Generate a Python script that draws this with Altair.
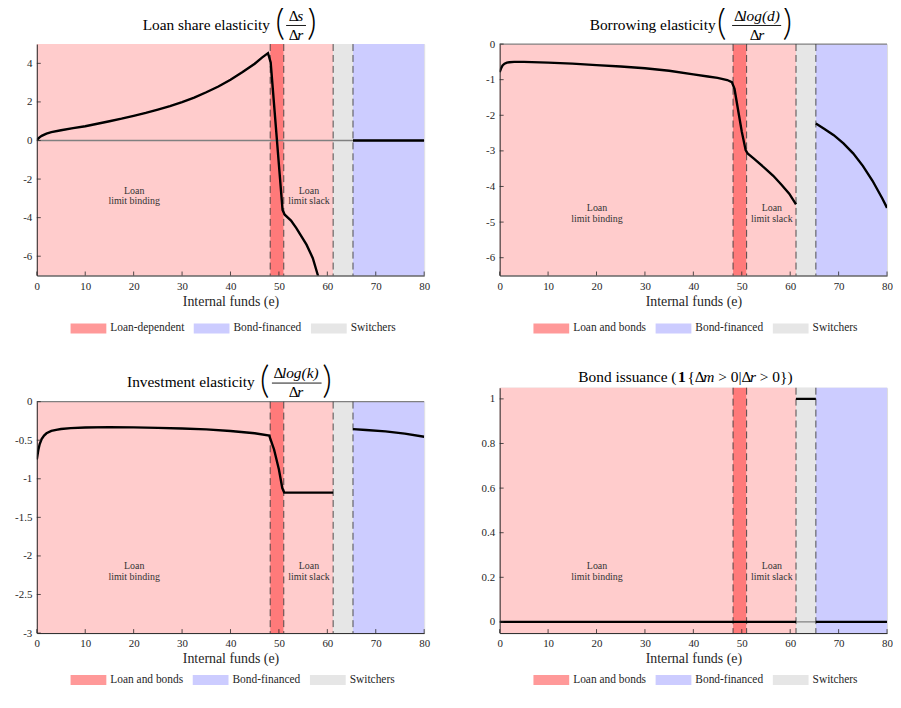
import altair as alt
import pandas as pd

FONT = "Liberation Serif"
INK = "#262626"
NB = "\u00a0"

# ---------------- data ----------------
X_TICKS = [0, 10, 20, 30, 40, 50, 60, 70, 80]
REGION_START = [0.0, 48.2, 51.0, 61.2, 65.3]
REGION_END = [48.2, 51.0, 61.2, 65.3, 80.0]
REGION_KIND = ["Loan limit binding", "Loan and bonds", "Loan limit slack", "Switchers", "Bond-financed"]
REGION_COLORS = ["#FFCCCC", "#FF7A7A", "#FFCCCC", "#E6E6E6", "#CCCCFF"]
DASH_X = [48.2, 51.0, 61.2, 65.3]

LEGEND_TOP_LEFT = ["Loan-dependent", "Bond-financed", "Switchers"]
LEGEND_OTHER = ["Loan and bonds", "Bond-financed", "Switchers"]
LEGEND_COLORS = ["#FF9999", "#CCCCFF", "#E6E6E6"]

# Panel 1: loan share elasticity
P1_XA = [0, 0.5, 1, 2, 3, 5, 7.5, 10, 12.5, 15, 17.5, 20, 22.5, 25, 27.5, 30, 32.5, 35,
         37.5, 40, 42.5, 45, 46.5, 47.75, 48.3, 50.75, 51.2, 52.5, 53.6, 55.7, 57.0, 58.0, 58.5]
P1_YA = [0.03, 0.15, 0.24, 0.36, 0.43, 0.53, 0.64, 0.74, 0.87, 1.0, 1.13, 1.28, 1.43, 1.6, 1.78,
         1.99, 2.22, 2.5, 2.8, 3.15, 3.55, 3.98, 4.3, 4.53, 4.05, -3.6, -3.85, -4.15, -4.54,
         -5.4, -6.1, -6.95, -7.4]
P1_XB = [65.3, 80]
P1_YB = [0, 0]
P1_TICKS = [-6, -4, -2, 0, 2, 4]

# Panel 2: borrowing elasticity
P2_XA = [0, 0.3, 0.6, 1, 1.5, 2, 3, 5, 10, 15, 20, 25, 30, 35, 40, 43, 45, 47, 47.95,
         48.5, 49.3, 50, 50.8, 51.2, 52.5, 54.8, 56.5, 58.2, 59.8, 61.2]
P2_YA = [-0.79, -0.68, -0.6, -0.55, -0.52, -0.51, -0.5, -0.5, -0.52, -0.55, -0.59, -0.63,
         -0.68, -0.75, -0.85, -0.91, -0.95, -1.01, -1.07, -1.26, -1.9, -2.46, -2.98, -3.07,
         -3.22, -3.49, -3.7, -3.95, -4.2, -4.5]
P2_XB = [65.3, 67, 69, 71, 73, 75, 77, 79, 80]
P2_YB = [-2.23, -2.38, -2.56, -2.79, -3.07, -3.42, -3.84, -4.33, -4.6]
P2_TICKS = [-6, -5, -4, -3, -2, -1, 0]

# Panel 3: investment elasticity
P3_XA = [0, 0.3, 0.6, 1, 1.5, 2, 3, 4, 5, 7, 10, 15, 20, 25, 30, 35, 40, 45, 48.0,
         49, 50, 50.7, 51.1, 61.2]
P3_YA = [-0.75, -0.63, -0.55, -0.485, -0.44, -0.41, -0.38, -0.365, -0.355, -0.343, -0.335,
         -0.33, -0.333, -0.34, -0.348, -0.36, -0.38, -0.41, -0.44, -0.62, -0.88, -1.12,
         -1.18, -1.18]
P3_XB = [65.3, 68, 72, 76, 80]
P3_YB = [-0.356, -0.368, -0.386, -0.415, -0.455]
P3_TICKS = [-3, -2.5, -2, -1.5, -1, -0.5, 0]

# Panel 4: bond issuance indicator
P4_XA = [0, 61.2]
P4_YA = [0, 0]
P4_XB = [61.2, 65.3]
P4_YB = [1, 1]
P4_XC = [65.3, 80]
P4_YC = [0, 0]
P4_TICKS = [0, 0.2, 0.4, 0.6, 0.8, 1]

DUMMY = pd.DataFrame({"k": [0]})
LEGEND_SHAPE = "M-1,-0.28H1V0.28H-1Z"


def seg_frame(*pairs):
    rows = []
    for s, (xs, ys) in enumerate(pairs):
        for i, (x, y) in enumerate(zip(xs, ys)):
            rows.append({"x": x, "y": y, "seg": s, "i": i})
    return pd.DataFrame(rows)


def txt(s, x, y, size=15.5, style="normal", weight="normal", align="center",
        baseline="middle", font=FONT, color="black"):
    return alt.Chart(DUMMY).mark_text(
        text=s, font=font, fontSize=size, fontStyle=style, fontWeight=weight,
        align=align, baseline=baseline, color=color
    ).encode(x=alt.value(x), y=alt.value(y))


def hline(x1, x2, y):
    return alt.Chart(DUMMY).mark_rule(color="black", strokeWidth=0.9).encode(
        x=alt.value(x1), x2=alt.value(x2), y=alt.value(y))


def run_left(parts, x0, y, size=15.5):
    out = []
    x = x0
    for s, st, w in parts:
        out.append(txt(s, x, y, size=size, style=st, align="left"))
        x += w * size
    return out


def run_center(parts, cx, y, size=15.5):
    total = sum(p[2] for p in parts) * size
    return run_left(parts, cx - total / 2, y, size)


def paren(s, x, yc):
    return txt(s, x, yc - 1, size=38, font="Lato", weight=300, baseline="middle")


def frac_title(label, label_right, num, den, cx, bar, lp, rp, pc):
    layers = [txt(label, label_right, -19.5, align="right")]
    layers += run_center(num, cx, -28.4)
    layers.append(hline(bar[0], bar[1], -18.7))
    layers += run_center(den, cx, -9.4)
    layers += [paren("(", lp, pc), paren(")", rp, pc)]
    return layers


def panel(lines, ydom, yticks, H, legend_labels, legend_y, title_layers, annot_y):
    xs = alt.Scale(domain=[0, 80], nice=False, zero=False)
    ys = alt.Scale(domain=ydom, nice=False, zero=False)
    xax = alt.Axis(values=X_TICKS, title="Internal funds (e)", ticks=False, grid=False,
                   domainColor=INK, domainWidth=1, labelFont=FONT, labelFontSize=11,
                   labelColor=INK, labelPadding=5, labelFlush=False, labelOverlap=False,
                   titleFont=FONT, titleFontSize=14, titleFontWeight="normal",
                   titleColor=INK, titlePadding=3, zindex=1)
    yax = alt.Axis(values=yticks, title=None, ticks=False, grid=False, domainColor=INK,
                   domainWidth=1, labelFont=FONT, labelFontSize=11, labelColor=INK,
                   labelPadding=5, labelFlush=False, labelOverlap=False,
                   labelExpr="'' + datum.value", zindex=1)
    regions = pd.DataFrame({"start": REGION_START, "end": REGION_END, "kind": REGION_KIND})
    bands = alt.Chart(regions).mark_rect().encode(
        x=alt.X("start:Q", scale=xs, axis=xax),
        x2="end:Q",
        y=alt.value(0), y2=alt.value(H),
        fill=alt.Fill("kind:N", scale=alt.Scale(domain=REGION_KIND, range=REGION_COLORS), legend=None),
    )
    zero = alt.Chart(pd.DataFrame({"y": [0]})).mark_rule(color="#808080", strokeWidth=1.3).encode(
        y=alt.Y("y:Q", scale=ys, axis=yax))
    dashes = alt.Chart(pd.DataFrame({"x": DASH_X})).mark_rule(
        color="#333333", strokeWidth=1, strokeDash=[7, 4], opacity=0.85
    ).encode(x=alt.X("x:Q", scale=xs, axis=xax))
    line = alt.Chart(lines).mark_line(color="black", strokeWidth=2.4, clip=True).encode(
        x=alt.X("x:Q", scale=xs, axis=xax),
        y=alt.Y("y:Q", scale=ys, axis=yax),
        detail="seg:N", order="i:Q")
    xt = alt.Chart(pd.DataFrame({"x": X_TICKS})).mark_rule(color=INK, strokeWidth=0.8).encode(
        x=alt.X("x:Q", scale=xs, axis=xax), y=alt.value(H), y2=alt.value(H - 4))
    yt = alt.Chart(pd.DataFrame({"y": yticks})).mark_rule(color=INK, strokeWidth=0.8).encode(
        y=alt.Y("y:Q", scale=ys, axis=yax), x=alt.value(0), x2=alt.value(4))
    ann = [
        alt.Chart(DUMMY).mark_text(text=["Loan", "limit binding"], font=FONT, fontSize=10,
                                   lineHeight=11, color="#333333", baseline="middle"
                                   ).encode(x=alt.value(98), y=alt.value(annot_y - 5.5)),
        alt.Chart(DUMMY).mark_text(text=["Loan", "limit slack"], font=FONT, fontSize=10,
                                   lineHeight=11, color="#333333", baseline="middle"
                                   ).encode(x=alt.value(274), y=alt.value(annot_y - 5.5)),
    ]
    leg = alt.Chart(pd.DataFrame({"label": legend_labels})).mark_point(
        filled=True, opacity=0).encode(
        color=alt.Color("label:N", sort=legend_labels,
                        scale=alt.Scale(domain=legend_labels, range=LEGEND_COLORS),
                        legend=alt.Legend(orient="none", legendX=34, legendY=legend_y,
                                          direction="horizontal", title=None,
                                          symbolType=LEGEND_SHAPE, symbolSize=1296,
                                          symbolOpacity=1, symbolStrokeWidth=0,
                                          labelFont=FONT, labelFontSize=11.5,
                                          labelColor=INK, labelOffset=4,
                                          columnPadding=9, padding=0)))
    layers = [bands, zero, dashes, line, xt, yt] + ann + title_layers + [leg]
    return alt.layer(*layers).properties(width=390, height=H)


D = 0.55
t1 = frac_title("Loan share elasticity", 234.7,
                [("Δ", "normal", D), ("s", "italic", 0.389)],
                [("Δ", "normal", D), ("r", "italic", 0.389)],
                261, (251, 271), 245, 276.9, -19.1)
t2 = frac_title("Borrowing elasticity", 217.4,
                [("Δ", "normal", D), ("log(d)", "italic", 2.444)],
                [("Δ", "normal", D), ("r", "italic", 0.389)],
                259, (234, 283.4), 223.4, 289.7, -19.4)
t3 = frac_title("Investment elasticity", 219.4,
                [("Δ", "normal", D), ("log(k)", "italic", 2.389)],
                [("Δ", "normal", D), ("r", "italic", 0.389)],
                261, (236.7, 286.7), 229.4, 292.4, -18.4)
t4 = [txt("Bond issuance (", 178, -11, align="right"),
      txt("1", 183.4, -11, weight="bold")]
t4 += run_left([("{Δ", "normal", 0.48 + D), ("m", "italic", 0.722 + 0.25),
                (">" + NB + "0|Δ", "normal", 0.564 + 0.25 + 0.5 + 0.2 + D),
                ("r", "italic", 0.389 + 0.25),
                (">" + NB + "0})", "normal", 0.564 + 0.25 + 0.5 + 0.48 + 0.333)],
               189, -11)

p1 = panel(seg_frame((P1_XA, P1_YA), (P1_XB, P1_YB)), [-7, 5], P1_TICKS, 233,
           LEGEND_TOP_LEFT, 268, t1, 153)
p2 = panel(seg_frame((P2_XA, P2_YA), (P2_XB, P2_YB)), [-6.5, 0], P2_TICKS, 233,
           LEGEND_OTHER, 268, t2, 170.8)
p3 = panel(seg_frame((P3_XA, P3_YA), (P3_XB, P3_YB)), [-3, 0], P3_TICKS, 233,
           LEGEND_OTHER, 262, t3, 171.1)
p4 = panel(seg_frame((P4_XA, P4_YA), (P4_XB, P4_YB), (P4_XC, P4_YC)), [-0.05, 1.05], P4_TICKS, 247,
           LEGEND_OTHER, 276, t4, 185.3)

col1 = alt.vconcat(p1, p3, spacing=127, bounds="flush").resolve_scale(
    color="independent").resolve_legend(color="independent")
col2 = alt.vconcat(p2, p4, spacing=113, bounds="flush").resolve_scale(
    color="independent").resolve_legend(color="independent")

chart = alt.hconcat(col1, col2, spacing=466, bounds="flush").resolve_scale(
    color="independent").resolve_legend(color="independent").properties(
    padding={"left": 6, "top": -6, "right": 0, "bottom": 0}
).configure_view(stroke=None).configure(font=FONT, background="white")

chart.save("out.html", embed_options={"renderer": "svg", "actions": False})
